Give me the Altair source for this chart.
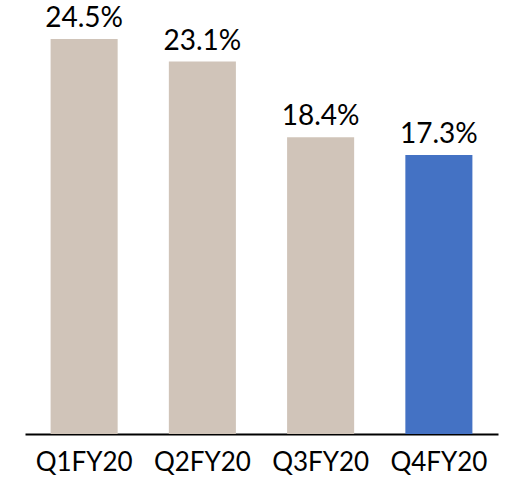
import altair as alt
import pandas as pd

quarters = ["Q1FY20", "Q2FY20", "Q3FY20", "Q4FY20"]
shares = [24.5, 23.1, 18.4, 17.3]
labels = ["24.5%", "23.1%", "18.4%", "17.3%"]
highlight = [False, False, False, True]

df = pd.DataFrame({"quarter": quarters, "share": shares, "label": labels, "current": highlight})

FONT = "Lato"

base = alt.Chart(df).encode(
    x=alt.X(
        "quarter:N",
        sort=quarters,
        title=None,
        scale=alt.Scale(paddingInner=0.433, paddingOuter=0.2165),
        axis=alt.Axis(
            domain=True,
            domainColor="black",
            domainWidth=2,
            ticks=False,
            grid=False,
            labelAngle=0,
            labelFont=FONT,
            labelFontSize=26,
            labelColor="black",
            labelPadding=15,
        ),
    ),
    y=alt.Y("share:Q", title=None, scale=alt.Scale(domain=[0, 24.5], nice=False, zero=True), axis=None),
)

bars = base.mark_bar().encode(
    color=alt.Color(
        "current:N",
        scale=alt.Scale(domain=[False, True], range=["#D0C4B9", "#4472C4"]),
        legend=None,
    )
)

text = base.mark_text(
    baseline="alphabetic", dy=-12, font=FONT, fontSize=28, color="black"
).encode(text="label:N")

chart = (
    (bars + text)
    .properties(
        width=473,
        height=395,
        background="white",
        autosize=alt.AutoSizeParams(type="none"),
        padding={"left": 25, "top": 39, "right": 7, "bottom": 49},
    )
    .configure_view(strokeWidth=0)
)

chart.save("out.html", embed_options={"renderer": "svg", "actions": False})
